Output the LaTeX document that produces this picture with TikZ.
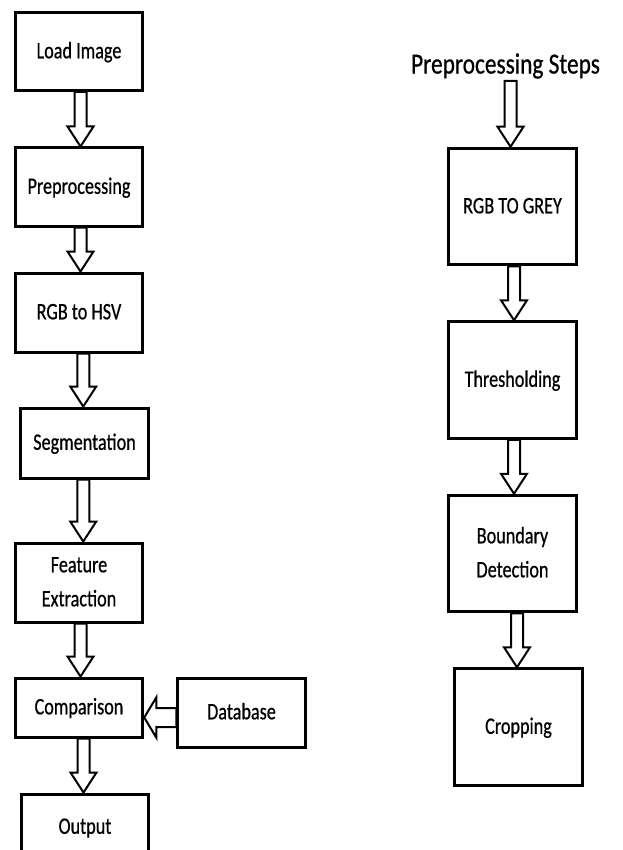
\documentclass[tikz,border=0pt]{standalone}
\usepackage{fontspec}
\setmainfont{Carlito}
\newfontfamily\lblfont{Carlito}[FakeBold=0.7]
\usepackage{graphicx}
\usepackage{tikz}
\usetikzlibrary{calc}

\newcommand{\lbl}[1]{\scalebox{0.77}[1]{\begin{tabular}{@{}c@{}}#1\end{tabular}}}
\newcommand{\blockdown}[2]{%
  \draw[blockarrow] let \p1=(#1.south), \p2=(#2.north), \p3=($(#1.south)!0.5!(#2.north)+(1.5,0)$) in
    (\x3-3pt,\y1) -- (\x3-3pt,\y2+10pt) -- (\x3-6.5pt,\y2+10pt) -- (\x3,\y2)
    -- (\x3+6.5pt,\y2+10pt) -- (\x3+3pt,\y2+10pt) -- (\x3+3pt,\y1) -- cycle;}

\begin{document}
\begin{tikzpicture}[x=0.5pt, y=-0.5pt,
    box/.style={draw, line width=1.5pt, fill=white, inner sep=0pt,
      minimum width=63.75pt, minimum height=39pt, font=\lblfont\fontsize{11.8}{17}\selectfont},
    tallbox/.style={box, minimum height=58.25pt},
    blockarrow/.style={draw, line width=1pt, fill=white, line join=miter}]
  \clip (0,0) rectangle (622,850);
  \fill[white] (0,0) rectangle (622,850);
  % main flow
  \node[box] (load) at (79,51.5) {\lbl{Load Image}};
  \node[box] (prep) at (79,187) {\lbl{Preprocessing}};
  \node[box, minimum height=39.5pt] (hsv) at (79,312.5) {\lbl{RGB to HSV}};
  \node[box, minimum height=35pt] (seg) at (84.5,443) {\lbl{Segmentation}};
  \node[box, minimum height=39.5pt] (feat) at (79,582.5) {\lbl{Feature\\Extraction}};
  \node[box, minimum height=29.5pt] (cmp) at (79,707.5) {\lbl{Comparison}};
  \node[box, minimum height=34.5pt] (db) at (241.5,712.5) {\lbl{Database}};
  \node[box, minimum height=33pt] (out) at (85,827) {\lbl{Output}};
  \blockdown{load}{prep}
  \blockdown{prep}{hsv}
  \blockdown{hsv}{seg}
  \blockdown{seg}{feat}
  \blockdown{feat}{cmp}
  \blockdown{cmp}{out}
  \draw[blockarrow] let \p1=(db.west), \p2=(cmp.east) in
    (\x1,\y1-7.25pt) -- (\x2+6pt,\y1-7.25pt) -- (\x2+6pt,\y1-12.5pt) -- (\x2,\y1-2.5pt)
    -- (\x2+6pt,\y1+7.5pt) -- (\x2+6pt,\y1+2.25pt) -- (\x1,\y1+2.25pt) -- cycle;
  % preprocessing steps
  \node[inner sep=1pt, font=\lblfont\fontsize{14.6}{17}\selectfont] (title) at (505.5,66)
    {\scalebox{0.8}[1]{Preprocessing Steps}};
  \node[tallbox] (grey) at (512.5,206.5) {\lbl{RGB TO GREY}};
  \node[tallbox] (thr) at (512.5,380) {\lbl{Thresholding}};
  \node[tallbox] (bnd) at (512.5,553.5) {\lbl{Boundary\\Detection}};
  \node[tallbox] (crop) at (518.5,727) {\lbl{Cropping}};
  \blockdown{title}{grey}
  \blockdown{grey}{thr}
  \blockdown{thr}{bnd}
  \blockdown{bnd}{crop}
\end{tikzpicture}
\end{document}
